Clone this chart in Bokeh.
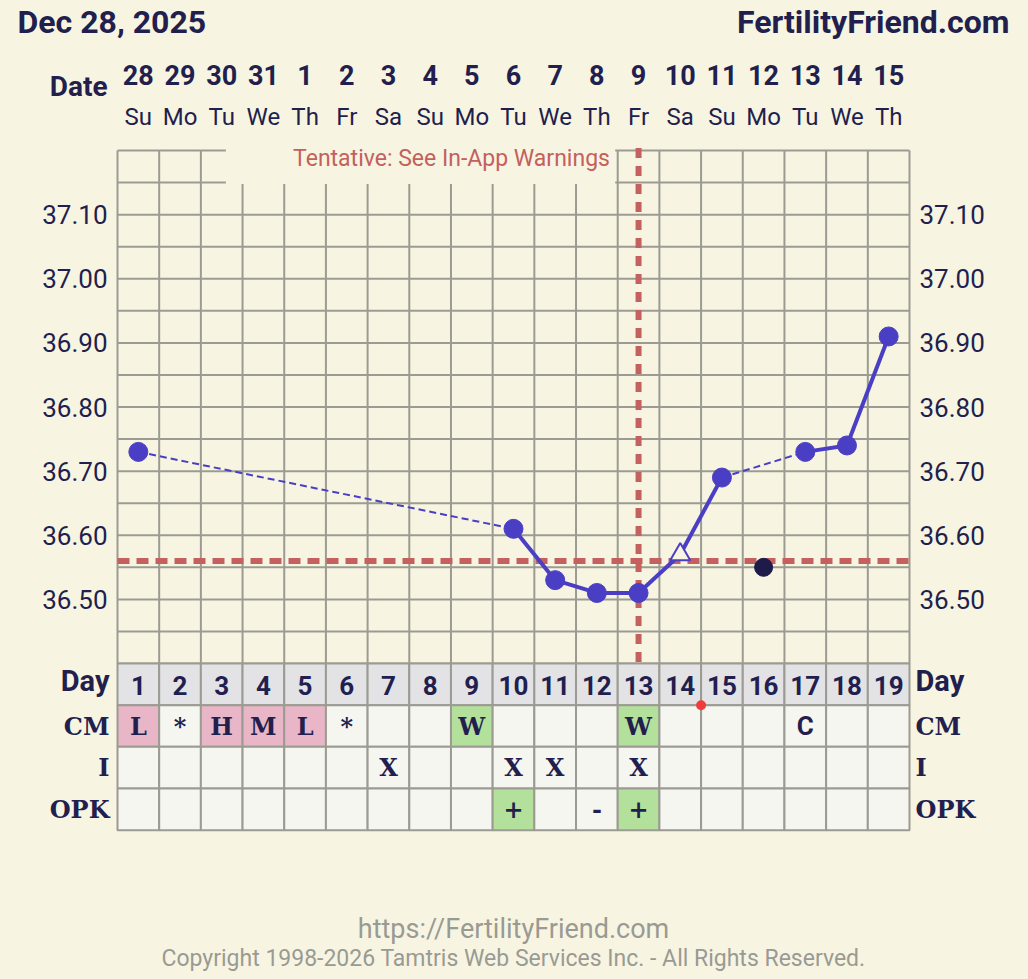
from bokeh.plotting import figure
from bokeh.models import Range1d, ColumnDataSource
from bokeh.embed import file_html
from bokeh.resources import INLINE
from bokeh.core.properties import value
import numpy as np

# ---------------- data ----------------
chart_title = "Dec 28, 2025"
site_name = "FertilityFriend.com"
cycle_days = list(range(1, 20))
dates = ["28", "29", "30", "31", "1", "2", "3", "4", "5", "6", "7", "8", "9",
         "10", "11", "12", "13", "14", "15"]
weekdays = ["Su", "Mo", "Tu", "We", "Th", "Fr", "Sa", "Su", "Mo", "Tu", "We",
            "Th", "Fr", "Sa", "Su", "Mo", "Tu", "We", "Th"]
temps = [36.73, None, None, None, None, None, None, None, None, 36.61, 36.53,
         36.51, 36.51, 36.57, 36.69, None, 36.73, 36.74, 36.91]
open_marker_days = [14]
discarded_days = [16]
discarded_temps = [36.55]
temp_ticks = [36.50, 36.60, 36.70, 36.80, 36.90, 37.00, 37.10]
coverline_temp = 36.56
ovulation_day = 13
cm_values = ["L", "*", "H", "M", "L", "*", "", "", "W", "", "", "", "W", "",
             "", "", "C", "", ""]
intercourse = ["", "", "", "", "", "", "X", "", "", "X", "X", "", "X", "", "",
               "", "", "", ""]
opk_values = ["", "", "", "", "", "", "", "", "", "+", "", "-", "+", "", "",
              "", "", "", ""]
row_labels = ["Day", "CM", "I", "OPK"]
flag_days = [14.5]
warning_text = "Tentative: See In-App Warnings"
footer_url = "https://FertilityFriend.com"
footer_copy = "Copyright 1998-2026 Tamtris Web Services Inc. - All Rights Reserved."

# ---------------- style ----------------
BG = "#f7f5e1"
NAVY = "#221f4f"
GRID = "#9b9b93"
BLUE = "#4a3fc4"
RED = "#c4605e"
PINK = "#e8b6c6"
GREEN = "#b3e09a"
CELL = "#f6f6f0"
DAYROW = "#e3e3e6"
GRAYTXT = "#9a9a94"

W, H = 1028, 979
PL, PR, PT, PB = 117, 909, 150, 663
T_LO, T_HI = 36.40, 37.20
N = len(cycle_days)
CW = (PR - PL) / N
TPP = (T_HI - T_LO) / (PB - PT)
RH = CW

p = figure(width=W, height=H,
           x_range=Range1d(0.5 - PL / CW, N + 0.5 + (W - PR) / CW),
           y_range=Range1d(T_LO - (H - PB) * TPP, T_HI + PT * TPP),
           x_axis_type=None, y_axis_type=None, min_border=0,
           toolbar_location=None, output_backend="svg",
           background_fill_color=BG, border_fill_color=BG,
           outline_line_color=None)
p.grid.visible = False
p.extra_x_ranges = {"px": Range1d(0, W)}
p.extra_y_ranges = {"py": Range1d(H, 0)}

# ---------------- grid ----------------
bounds = np.arange(0.5, N + 1.0, 1.0)
p.segment(x0=bounds, x1=bounds, y0=[T_LO] * len(bounds), y1=[T_HI] * len(bounds),
          line_color=GRID, line_width=2)
hlines = np.round(np.arange(T_LO, T_HI + 0.001, 0.05), 2)
p.segment(x0=[0.5] * len(hlines), x1=[N + 0.5] * len(hlines), y0=hlines, y1=hlines,
          line_color=GRID, line_width=2)
# mask behind the warning text
p.quad(left=[3.1], right=[12.44], bottom=[T_HI - 0.05 - 0.0022], top=[T_HI + 0.01],
       fill_color=BG, line_color=None)
p.text(x=[451], y=[158], text=[warning_text], x_range_name="px", y_range_name="py",
       text_font=value("Roboto"), text_font_size=value("23px"), text_color=RED,
       text_align="center", text_baseline="middle")

# ---------------- coverline / ovulation ----------------
p.line(x=[0.5, N + 0.5], y=[coverline_temp, coverline_temp], line_color=RED,
       line_width=6, line_dash="12 7")
p.line(x=[ovulation_day, ovulation_day], y=[T_HI + 0.004, T_LO], line_color=RED,
       line_width=6, line_dash="10 8")

# ---------------- temperature lines ----------------
pts = [(d, t) for d, t in zip(cycle_days, temps) if t is not None]
for (d0, t0), (d1, t1) in zip(pts[:-1], pts[1:]):
    if d1 - d0 == 1:
        p.line(x=[d0, d1], y=[t0, t1], line_color=BLUE, line_width=4)
    else:
        p.line(x=[d0, d1], y=[t0, t1], line_color=BLUE, line_width=2, line_dash="7 4")

solid_x = [d for d, t in pts if d not in open_marker_days]
solid_y = [t for d, t in pts if d not in open_marker_days]
p.scatter(x=solid_x, y=solid_y, size=19, fill_color=BLUE, line_color=BLUE)
open_x = [d for d, t in pts if d in open_marker_days]
open_y = [t for d, t in pts if d in open_marker_days]
p.scatter(x=open_x, y=open_y, marker="triangle", size=20, fill_color=BG,
          line_color=BLUE, line_width=2)
p.scatter(x=discarded_days, y=discarded_temps, size=18, fill_color="#1e1a4a",
          line_color="#1e1a4a")

# ---------------- temperature tick labels ----------------
tick_txt = ["%.2f" % t for t in temp_ticks]
p.text(x=[0.5 - 10 / CW] * len(temp_ticks), y=temp_ticks, text=tick_txt,
       text_font=value("Roboto"), text_font_size=value("26px"), text_color=NAVY,
       text_align="right", text_baseline="middle")
p.text(x=[N + 0.5 + 10 / CW] * len(temp_ticks), y=temp_ticks, text=tick_txt,
       text_font=value("Roboto"), text_font_size=value("26px"), text_color=NAVY,
       text_align="left", text_baseline="middle")

# ---------------- header ----------------
p.text(x=[17], y=[21], text=[chart_title], x_range_name="px", y_range_name="py",
       text_font=value("Roboto"), text_font_style="bold", text_font_size=value("32px"),
       text_color=NAVY, text_align="left", text_baseline="middle")
p.text(x=[1009], y=[21], text=[site_name], x_range_name="px", y_range_name="py",
       text_font=value("Roboto"), text_font_style="bold", text_font_size=value("32px"),
       text_color=NAVY, text_align="right", text_baseline="middle")
p.text(x=[107], y=[86], text=["Date"], x_range_name="px", y_range_name="py",
       text_font=value("Roboto"), text_font_style="bold", text_font_size=value("28px"),
       text_color=NAVY, text_align="right", text_baseline="middle")
p.text(x=cycle_days, y=[74] * N, text=dates, y_range_name="py",
       text_font=value("Roboto"), text_font_style="bold", text_font_size=value("27px"),
       text_color=NAVY, text_align="center", text_baseline="middle")
p.text(x=cycle_days, y=[116] * N, text=weekdays, y_range_name="py",
       text_font=value("Roboto"), text_font_size=value("24px"),
       text_color=NAVY, text_align="center", text_baseline="middle")

# ---------------- table ----------------
def fill_for(row, v):
    if row == 0:
        return DAYROW
    if row == 1:
        if v in ("L", "H", "M"):
            return PINK
        if v == "W":
            return GREEN
    if row == 3 and v == "+":
        return GREEN
    return CELL

rows_data = [[str(d) for d in cycle_days], cm_values, intercourse, opk_values]
left, right, top, bottom, fills = [], [], [], [], []
for r, vals in enumerate(rows_data):
    for d, v in zip(cycle_days, vals):
        left.append(d - 0.5)
        right.append(d + 0.5)
        top.append(PB + r * RH)
        bottom.append(PB + (r + 1) * RH)
        fills.append(fill_for(r, v))
p.quad(source=ColumnDataSource(dict(left=left, right=right, top=top, bottom=bottom,
                                    fill=fills)),
       left="left", right="right", top="top", bottom="bottom", fill_color="fill",
       line_color=GRID, line_width=2, y_range_name="py")

# day numbers
p.text(x=cycle_days, y=[PB + 0.5 * RH + 1] * N, text=rows_data[0], y_range_name="py",
       text_font=value("Roboto"), text_font_style="bold", text_font_size=value("26px"),
       text_color=NAVY, text_align="center", text_baseline="middle")
# cell entries
for r in (1, 2, 3):
    xs = [d for d, v in zip(cycle_days, rows_data[r]) if v]
    vs = [v for v in rows_data[r] if v]
    serif_x = [x for x, v in zip(xs, vs) if v not in ("C",)]
    serif_v = [v for v in vs if v not in ("C",)]
    p.text(x=serif_x, y=[PB + (r + 0.5) * RH] * len(serif_x), text=serif_v,
           y_range_name="py", text_font=value("DejaVu Serif"), text_font_style="bold",
           text_font_size=value("24px"), text_color=NAVY, text_align="center",
           text_baseline="middle")
    sans_x = [x for x, v in zip(xs, vs) if v in ("C",)]
    sans_v = [v for v in vs if v in ("C",)]
    p.text(x=sans_x, y=[PB + (r + 0.5) * RH] * len(sans_x), text=sans_v,
           y_range_name="py", text_font=value("Roboto"), text_font_style="bold",
           text_font_size=value("26px"), text_color=NAVY, text_align="center",
           text_baseline="middle")

# row labels
label_y = [PB + (r + 0.5) * RH for r in range(4)]
for side_x, align in ((0.5 - 8 / CW, "right"), (N + 0.5 + 6 / CW, "left")):
    p.text(x=[side_x], y=[label_y[0] - 3], text=[row_labels[0]], y_range_name="py",
           text_font=value("Roboto"), text_font_style="bold", text_font_size=value("29px"),
           text_color=NAVY, text_align=align, text_baseline="middle")
    p.text(x=[side_x] * 3, y=label_y[1:], text=row_labels[1:], y_range_name="py",
           text_font=value("DejaVu Serif"), text_font_style="bold",
           text_font_size=value("24px"), text_color=NAVY, text_align=align,
           text_baseline="middle")

# small red flag marker
p.scatter(x=flag_days, y=[PB + RH] * len(flag_days), y_range_name="py", size=10,
          fill_color="#f23b3b", line_color=None)

# ---------------- footer ----------------
p.text(x=[513], y=[928], text=[footer_url], x_range_name="px", y_range_name="py",
       text_font=value("Roboto"), text_font_size=value("27px"), text_color=GRAYTXT,
       text_align="center", text_baseline="middle")
p.text(x=[513], y=[958], text=[footer_copy], x_range_name="px", y_range_name="py",
       text_font=value("Roboto"), text_font_size=value("23px"), text_color=GRAYTXT,
       text_align="center", text_baseline="middle")

html = file_html(p, INLINE)
html = html.replace("</head>",
                    "<style>html,body{background:%s;margin:0;padding:0;}</style></head>" % BG, 1)
open("out.html", "w").write(html)
